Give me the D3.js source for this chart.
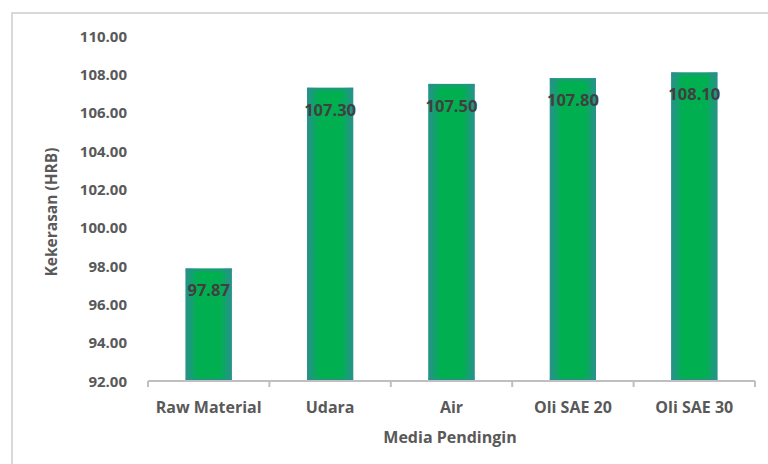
<!DOCTYPE html>
<html lang="id">
<head>
    <meta charset="UTF-8">
    <title>Kekerasan vs Media Pendingin</title>
    <script src="https://cdnjs.cloudflare.com/ajax/libs/d3/7.8.5/d3.min.js"></script>
    <style>
        body { margin: 0; background: #fff; }
        svg { display: block; }
    </style>
</head>
<body>
<svg id="chart" width="768" height="464"></svg>
<script>
    // data
    const categories = ["Raw Material", "Udara", "Air", "Oli SAE 20", "Oli SAE 30"];
    const hardness = [97.87, 107.30, 107.50, 107.80, 108.10];
    const yTicks = [92, 94, 96, 98, 100, 102, 104, 106, 108, 110];

    const svg = d3.select("#chart");
    const plotLeft = 148, plotRight = 755, plotTop = 36, plotBottom = 381;
    const font = "Open Sans, sans-serif";

    // chart frame (goes past the right/bottom edge of the image)
    svg.append("rect")
        .attr("x", 12).attr("y", 13)
        .attr("width", 800).attr("height", 500)
        .attr("fill", "none")
        .attr("stroke", "#d9d9d9")
        .attr("stroke-width", 2);

    const x = d3.scaleBand().domain(categories).range([plotLeft, plotRight]).paddingInner(0.62).paddingOuter(0.31);
    const xb = d3.scaleBand().domain(categories).range([plotLeft, plotRight]);
    const y = d3.scaleLinear().domain([92, 110]).range([plotBottom, plotTop]);

    // excel style path gradient: green center, teal edges
    const defs = svg.append("defs");
    const hg = defs.append("linearGradient").attr("id", "edgeH");
    hg.append("stop").attr("offset", "0%").attr("stop-color", "#2e8c96").attr("stop-opacity", 0.9);
    hg.append("stop").attr("offset", "25%").attr("stop-color", "#2e8c96").attr("stop-opacity", 0);
    hg.append("stop").attr("offset", "75%").attr("stop-color", "#2e8c96").attr("stop-opacity", 0);
    hg.append("stop").attr("offset", "100%").attr("stop-color", "#2e8c96").attr("stop-opacity", 0.9);

    const bars = svg.append("g").selectAll("g").data(categories).join("g");
    bars.append("rect")
        .attr("x", d => x(d))
        .attr("y", (d, i) => y(hardness[i]))
        .attr("width", x.bandwidth())
        .attr("height", (d, i) => plotBottom - y(hardness[i]))
        .attr("fill", "#00b050");
    bars.append("rect")
        .attr("x", d => x(d))
        .attr("y", (d, i) => y(hardness[i]))
        .attr("width", x.bandwidth())
        .attr("height", (d, i) => plotBottom - y(hardness[i]))
        .attr("fill", "url(#edgeH)");
    // top / bottom edge tint
    bars.append("rect")
        .attr("x", d => x(d))
        .attr("y", (d, i) => y(hardness[i]))
        .attr("width", x.bandwidth())
        .attr("height", 3)
        .attr("fill", "#2e8c96").attr("opacity", 0.55);
    bars.append("rect")
        .attr("x", d => x(d))
        .attr("y", plotBottom - 3)
        .attr("width", x.bandwidth())
        .attr("height", 3)
        .attr("fill", "#2e8c96").attr("opacity", 0.55);

    // value labels
    bars.append("text")
        .attr("x", d => x(d) + x.bandwidth() / 2)
        .attr("y", (d, i) => y(hardness[i]) + 28)
        .attr("text-anchor", "middle")
        .attr("font-family", font)
        .attr("font-weight", 700)
        .attr("font-size", 16.5)
        .attr("fill", "#404040")
        .text((d, i) => hardness[i].toFixed(2));

    // y tick labels
    svg.append("g").selectAll("text").data(yTicks).join("text")
        .attr("x", 127)
        .attr("y", d => y(d) + 5.5)
        .attr("text-anchor", "end")
        .attr("font-family", font)
        .attr("font-weight", 700)
        .attr("font-size", 15)
        .attr("fill", "#595959")
        .text(d => d.toFixed(2));

    // x axis line and ticks
    const ax = svg.append("g").attr("stroke", "#bfbfbf").attr("stroke-width", 2);
    ax.append("line").attr("x1", plotLeft).attr("x2", plotRight).attr("y1", plotBottom).attr("y2", plotBottom);
    ax.selectAll("line.tk").data(categories.concat(["end"])).join("line").attr("class", "tk")
        .attr("x1", (d, i) => i < categories.length ? xb(d) : plotRight)
        .attr("x2", (d, i) => i < categories.length ? xb(d) : plotRight)
        .attr("y1", plotBottom).attr("y2", plotBottom + 6);

    svg.append("g").selectAll("text").data(categories).join("text")
        .attr("x", d => xb(d) + xb.bandwidth() / 2)
        .attr("y", 413)
        .attr("text-anchor", "middle")
        .attr("font-family", font)
        .attr("font-weight", 700)
        .attr("font-size", 16)
        .attr("fill", "#595959")
        .text(d => d);

    // axis titles
    svg.append("text")
        .attr("x", 450).attr("y", 443)
        .attr("text-anchor", "middle")
        .attr("font-family", font)
        .attr("font-weight", 700)
        .attr("font-size", 16)
        .attr("fill", "#595959")
        .text("Media Pendingin");

    svg.append("text")
        .attr("transform", "translate(57,212) rotate(-90)")
        .attr("text-anchor", "middle")
        .attr("font-family", font)
        .attr("font-weight", 700)
        .attr("font-size", 15.5)
        .attr("fill", "#595959")
        .text("Kekerasan (HRB)");
</script>
</body>
</html>
